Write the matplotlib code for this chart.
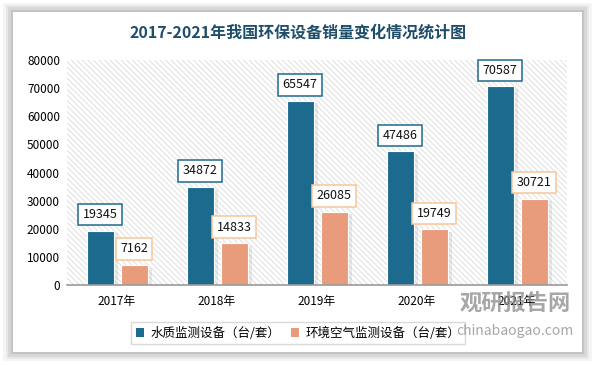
import numpy as np
import matplotlib
matplotlib.use("Agg")
import matplotlib.pyplot as plt
import matplotlib.patheffects as pe
from matplotlib.patches import Rectangle, Patch

plt.rcParams["font.family"] = ["Noto Sans CJK SC", "DejaVu Sans"]
plt.rcParams["hatch.color"] = "#dadada"
plt.rcParams["hatch.linewidth"] = 0.6

# ── data ─────────────────────────────────────────────
years      = ["2017年", "2018年", "2019年", "2020年", "2021年"]
water      = [19345, 34872, 65547, 47486, 70587]
air        = [7162, 14833, 26085, 19749, 30721]
name_water = "水质监测设备（台/套）"
name_air   = "环境空气监测设备（台/套）"
title      = "2017-2021年我国环保设备销量变化情况统计图"

BLUE, ORANGE = "#1c6b8f", "#e89c7b"
BLUE_EDGE, ORANGE_EDGE = "#1f6a8c", "#f8c697"

fig = plt.figure(figsize=(5.97, 3.65), dpi=100)
fig.patch.set_facecolor("white")

# card shadow + card
for i, a in enumerate([0.04, 0.05, 0.07, 0.09]):
    d = (4 - i) * 0.004
    fig.patches.append(Rectangle((13/597 - d, 1 - 352/365 - d*1.6), 569/597 + 2*d, 340/365 + 2*d*1.6,
                                 transform=fig.transFigure, facecolor="#000000", alpha=a,
                                 edgecolor="none", zorder=-5))
fig.patches.append(Rectangle((13/597, 1 - 352/365), 569/597, 340/365, transform=fig.transFigure,
                             facecolor="white", edgecolor="none", zorder=-4))

fig.text(0.5, 1 - 33/365, title, ha="center", va="center", fontsize=11.5,
         color="#1f4e6b", fontweight="bold")

ax = fig.add_axes([67/597, 1 - 285/365, 500/597, 225/365])
ax.patch.set_alpha(0)
ax.add_patch(Rectangle((0, 0), 1, 1, transform=ax.transAxes, facecolor="white",
                       edgecolor="#dadada", hatch="\\\\\\\\\\\\", linewidth=0, zorder=0))

x = np.arange(len(years))
w, off = 0.27, 0.17
shadow = [pe.SimplePatchShadow(offset=(3, -2), shadow_rgbFace="#999999", alpha=0.2), pe.Normal()]
b1 = ax.bar(x - off, water, w, color=BLUE, edgecolor="white", linewidth=0.8, zorder=3)
b2 = ax.bar(x + off, air, w, color=ORANGE, edgecolor="white", linewidth=0.8, zorder=3)
for b in list(b1) + list(b2):
    b.set_path_effects(shadow)

for xi, v in zip(x - off, water):
    ax.annotate(f"{v}", (xi, v), xytext=(0, 16), textcoords="offset pixels", ha="center", va="center",
                fontsize=9, color="#111111", zorder=5,
                bbox=dict(boxstyle="square,pad=0.35", facecolor="white", edgecolor=BLUE_EDGE, linewidth=1.1))
for xi, v in zip(x + off, air):
    ax.annotate(f"{v}", (xi, v), xytext=(0, 16), textcoords="offset pixels", ha="center", va="center",
                fontsize=9, color="#111111", zorder=5,
                bbox=dict(boxstyle="square,pad=0.35", facecolor="white", edgecolor=ORANGE_EDGE, linewidth=1.1))

ax.set_xlim(-0.5, len(years) - 0.5)
ax.set_ylim(0, 80000)
ax.set_yticks(np.arange(0, 80001, 10000))
ax.set_xticks(x)
ax.set_xticklabels(years, fontsize=8.5)
ax.tick_params(axis="y", labelsize=8.5, length=0, pad=5)
ax.tick_params(axis="x", length=0, pad=7)
for s in ["top", "right", "left"]:
    ax.spines[s].set_visible(False)
ax.spines["bottom"].set_color("#9a9a9a")
ax.spines["bottom"].set_linewidth(1.2)
ax.spines["bottom"].set_zorder(4)

handles = [Patch(facecolor=BLUE), Patch(facecolor=ORANGE)]
fig.legend(handles=handles, labels=[name_water, name_air], loc="center",
           bbox_to_anchor=(298/597, 1 - 333/365), ncol=2, fontsize=9, frameon=True,
           fancybox=False, edgecolor="#d0d0d0", handlelength=0.7, handleheight=0.7,
           handletextpad=0.5, columnspacing=0.8, borderpad=0.35)

# watermark
fig.text(515/597, 1 - 304/365, "观研报告网", ha="center", va="center", fontsize=16,
         fontweight="bold", color="#8a8a8a", alpha=0.75, zorder=10)
fig.text(515/597, 1 - 331/365, "chinabaogao.com", ha="center", va="center", fontsize=10,
         color="#8a8a8a", alpha=0.75, zorder=10)

fig.savefig("out.png", dpi=100)
